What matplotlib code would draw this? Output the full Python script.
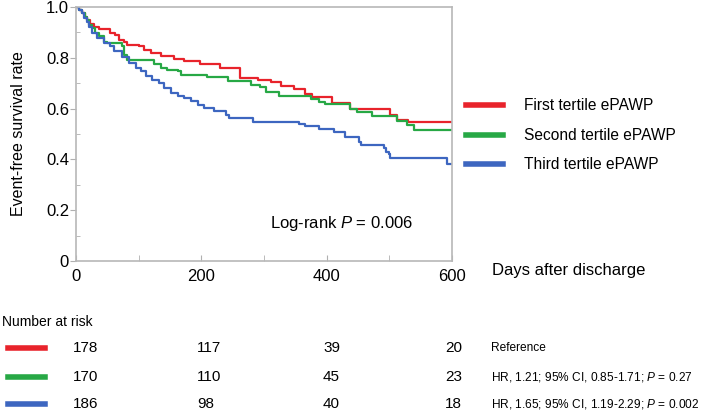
import matplotlib
matplotlib.use("Agg")
import matplotlib.pyplot as plt
from matplotlib.ticker import MultipleLocator

plt.rcParams['font.family'] = ['Liberation Sans', 'DejaVu Sans']
plt.rcParams['mathtext.fontset'] = 'custom'
plt.rcParams['mathtext.it'] = 'Liberation Sans:italic'

# step curves: (day, survival from that day on)
red_t = [0, 5, 10, 14, 18, 23, 28, 37, 55, 62, 69, 77, 82, 100, 108, 119, 135, 156, 172, 198,
         230, 262, 290, 311, 327, 348, 366, 376, 408, 437, 501, 512, 530, 600]
red_s = [1.0, 0.99, 0.975, 0.96, 0.95, 0.935, 0.92, 0.913, 0.897, 0.891, 0.871, 0.864, 0.851, 0.845,
         0.832, 0.819, 0.808, 0.795, 0.786, 0.776, 0.759, 0.72, 0.713, 0.703, 0.69, 0.677, 0.657,
         0.645, 0.622, 0.60, 0.575, 0.556, 0.549, 0.549]

green_t = [0, 5, 10, 14, 18, 21, 26, 31, 37, 45, 50, 74, 77, 82, 125, 135, 146, 162, 167, 209,
           242, 279, 293, 303, 324, 375, 387, 398, 437, 448, 472, 512, 528, 540, 600]
green_s = [1.0, 0.99, 0.975, 0.96, 0.95, 0.93, 0.917, 0.897, 0.884, 0.864, 0.86, 0.845, 0.812,
           0.792, 0.777, 0.760, 0.751, 0.747, 0.733, 0.724, 0.707, 0.694, 0.685, 0.667, 0.648,
           0.639, 0.625, 0.619, 0.60, 0.588, 0.571, 0.553, 0.536, 0.514, 0.514]

blue_t = [0, 5, 10, 13, 17, 21, 26, 34, 45, 55, 60, 74, 85, 95, 103, 111, 122, 133, 141, 151,
          162, 172, 183, 194, 204, 220, 240, 244, 282, 356, 366, 387, 411, 430, 451, 454, 491,
          494, 499, 501, 592, 600]
blue_s = [1.0, 0.99, 0.975, 0.955, 0.94, 0.923, 0.897, 0.878, 0.858, 0.845, 0.825, 0.805, 0.779,
          0.760, 0.747, 0.727, 0.713, 0.700, 0.681, 0.661, 0.648, 0.641, 0.628, 0.615, 0.602,
          0.592, 0.575, 0.562, 0.549, 0.540, 0.532, 0.519, 0.506, 0.49, 0.47, 0.457, 0.444,
          0.431, 0.42, 0.405, 0.381, 0.381]

labels = ['First tertile ePAWP', 'Second tertile ePAWP', 'Third tertile ePAWP']
colors = ['#e8232b', '#27a845', '#3d66c0']

risk_red = [178, 117, 39, 20]
risk_green = [170, 110, 45, 23]
risk_blue = [186, 98, 40, 18]
hr_text = ['Reference',
           'HR, 1.21; 95% CI, 0.85-1.71; $\\it{P}$ = 0.27',
           'HR, 1.65; 95% CI, 1.19-2.29; $\\it{P}$ = 0.002']

fig = plt.figure(figsize=(7.09, 4.12), dpi=100)
ax = fig.add_axes([76/709, 1 - 261/412, 376/709, 254/412])

curves = [(red_t, red_s), (green_t, green_s), (blue_t, blue_s)]
for (t, s), c in zip(curves, colors):
    ax.step(t, s, where='post', color=c, lw=1.6)

ax.set_xlim(0, 600)
ax.set_ylim(0, 1.0)
ax.set_xticks([0, 200, 400, 600])
ax.set_yticks([0, 0.2, 0.4, 0.6, 0.8, 1.0])
ax.set_yticklabels(['0', '0.2', '0.4', '0.6', '0.8', '1.0'])
ax.xaxis.set_minor_locator(MultipleLocator(100))
ax.yaxis.set_minor_locator(MultipleLocator(0.1))
ax.tick_params(axis='y', which='major', direction='out', length=4, color='#b0b0b0', labelsize=12, pad=1)
ax.tick_params(axis='y', which='minor', direction='in', length=3, color='#b0b0b0')
ax.tick_params(axis='x', which='both', direction='in', length=4, color='#b0b0b0', labelsize=12, pad=6)
for sp in ax.spines.values():
    sp.set_color('#b8b8b8')
    sp.set_linewidth(1.2)
ax.set_ylabel('Event-free survival rate', fontsize=11.5, labelpad=14)

ax.text(0.705, 0.146, 'Log-rank $\\it{P}$ = 0.006', transform=ax.transAxes,
        ha='center', va='center', fontsize=12)
fig.text(492/709, 1 - 271/412, 'Days after discharge', fontsize=12, va='center', ha='left')

# legend at right
leg_y = [105, 135, 164]
for lab, c, y in zip(labels, colors, leg_y):
    fig.add_artist(plt.Line2D([466/709, 503/709], [1 - y/412] * 2, color=c, lw=4))
    fig.text(524/709, 1 - y/412, lab, fontsize=11.2, va='center', ha='left')

# number at risk table
fig.text(2/709, 1 - 322/412, 'Number at risk', fontsize=10, va='center', ha='left')
row_y = [348, 377, 404]
col_x = [73, 197, 323, 445]
for risk, c, y, hr in zip([risk_red, risk_green, risk_blue], colors, row_y, hr_text):
    fig.add_artist(plt.Line2D([8/709, 45/709], [1 - y/412] * 2, color=c, lw=4))
    for n, x in zip(risk, col_x):
        fig.text(x/709, 1 - y/412, str(n), fontsize=11, va='center', ha='left')
    fig.text(491/709, 1 - y/412, hr, fontsize=8.6, va='center', ha='left')

fig.savefig('out.png', dpi=100)
